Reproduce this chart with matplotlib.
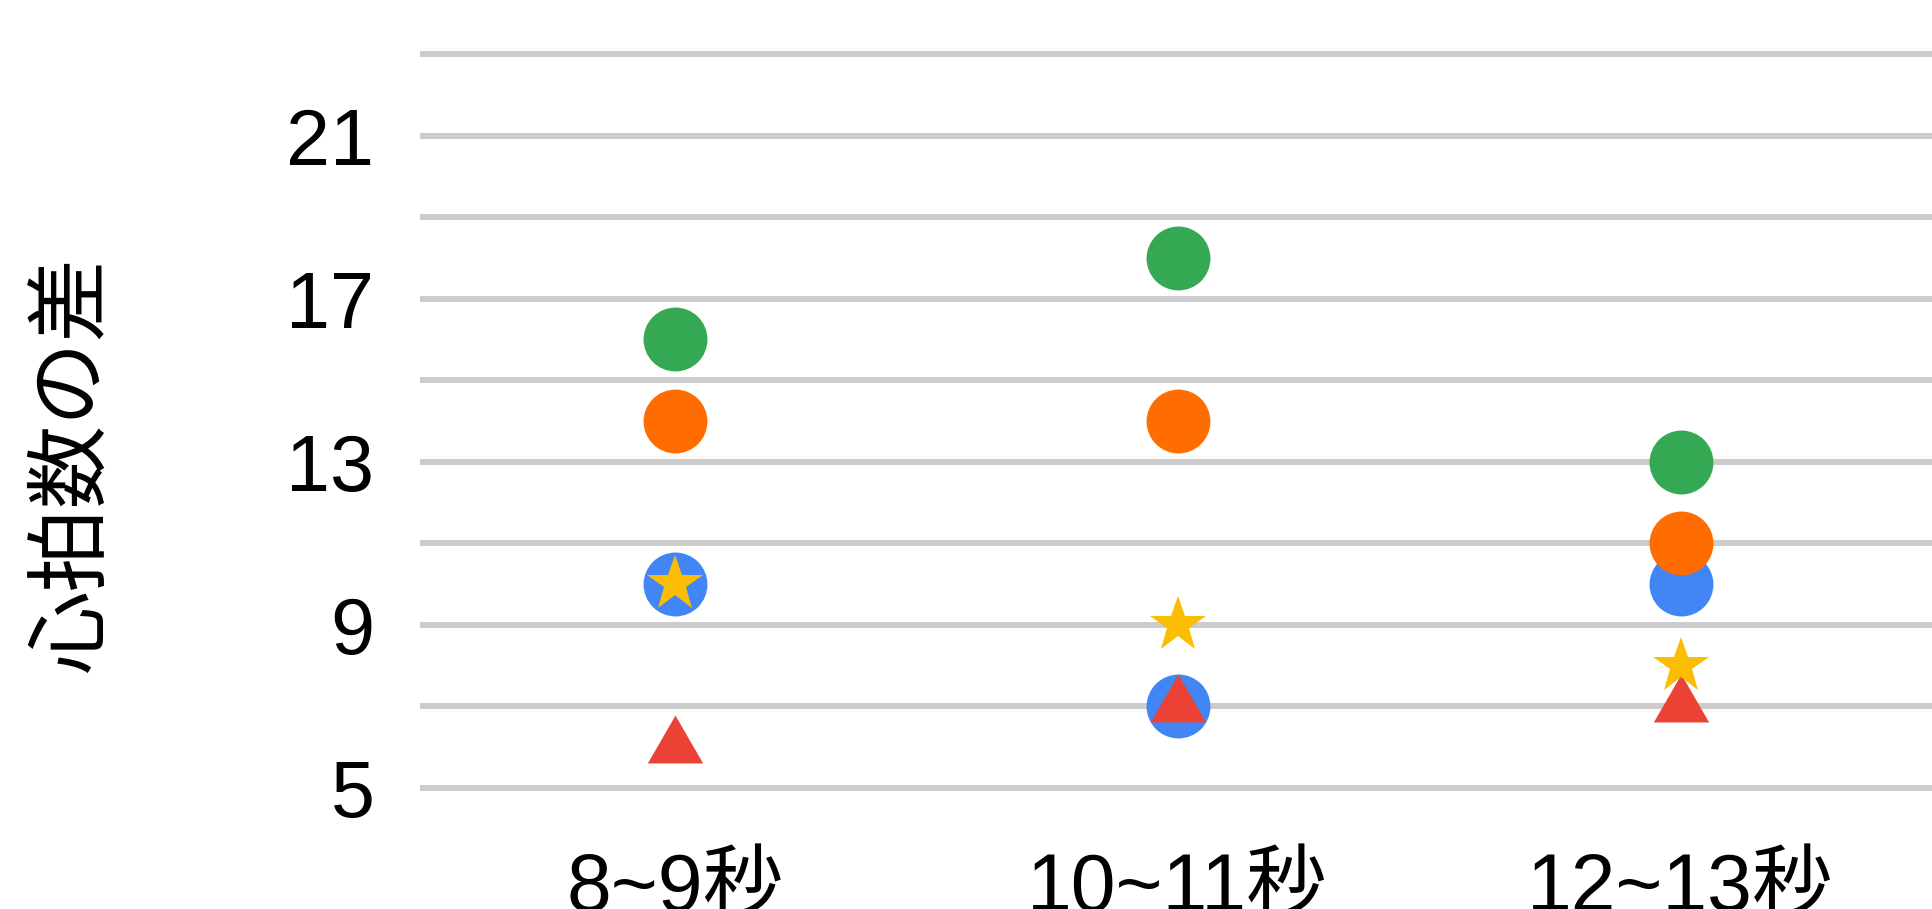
import matplotlib
matplotlib.use("Agg")
import matplotlib.pyplot as plt
import numpy as np

# Data
categories = ["8~9秒", "10~11秒", "12~13秒"]
blue_vals = [10, 7, 10]
red_vals = [6, 7, 7]
yellow_vals = [10, 9, 8]
green_vals = [16, 18, 13]
orange_vals = [14, 14, 11]
y_ticks = [5, 7, 9, 11, 13, 15, 17, 19, 21, 23]
y_labels = ["5", "", "9", "", "13", "", "17", "", "21", ""]

plt.rcParams["font.family"] = ["Liberation Sans", "Noto Sans CJK JP", "DejaVu Sans"]

fig = plt.figure(figsize=(19.32, 9.09), dpi=100)
ax = fig.add_axes([0.219, 0.1331, 0.781, 0.8075])

x = np.arange(len(categories))

# Equilateral triangle centred on its centroid
tri = [(-1.0, -0.577), (1.0, -0.577), (0.0, 1.155), (-1.0, -0.577)]

series = [
    (blue_vals, "#4285F4", "o", 46),
    (red_vals, "#EA4335", tri, 46),
    (yellow_vals, "#FBBC04", "*", 42),
    (green_vals, "#34A853", "o", 46),
    (orange_vals, "#FF6D01", "o", 46),
]
for i, (vals, color, marker, ms) in enumerate(series):
    ax.plot(x, vals, linestyle="none", marker=marker, markersize=ms,
            color=color, markeredgewidth=0, zorder=3 + i)

ax.set_xlim(-0.5, 2.5)
ax.set_ylim(5, 23)
ax.set_yticks(y_ticks)
ax.set_yticklabels(y_labels)
ax.set_xticks(x)
ax.set_xticklabels(categories)

ax.tick_params(axis="y", length=0, pad=35, labelsize=57, colors="#000000")
ax.tick_params(axis="x", length=0, pad=46, labelsize=58, colors="#000000")

ax.grid(axis="y", color="#cccccc", linewidth=4.3)
ax.grid(axis="x", visible=False)
for gl in ax.get_ygridlines():
    gl.set_clip_on(False)
ax.set_axisbelow(True)
for s in ax.spines.values():
    s.set_visible(False)

fig.text(0.037, 1 - 465 / 909, "心拍数の差", rotation=90, ha="center", va="center",
         fontsize=60, family=["Noto Sans CJK JP", "DejaVu Sans"], color="#000000")

fig.savefig("out.png", dpi=100, facecolor="white")
